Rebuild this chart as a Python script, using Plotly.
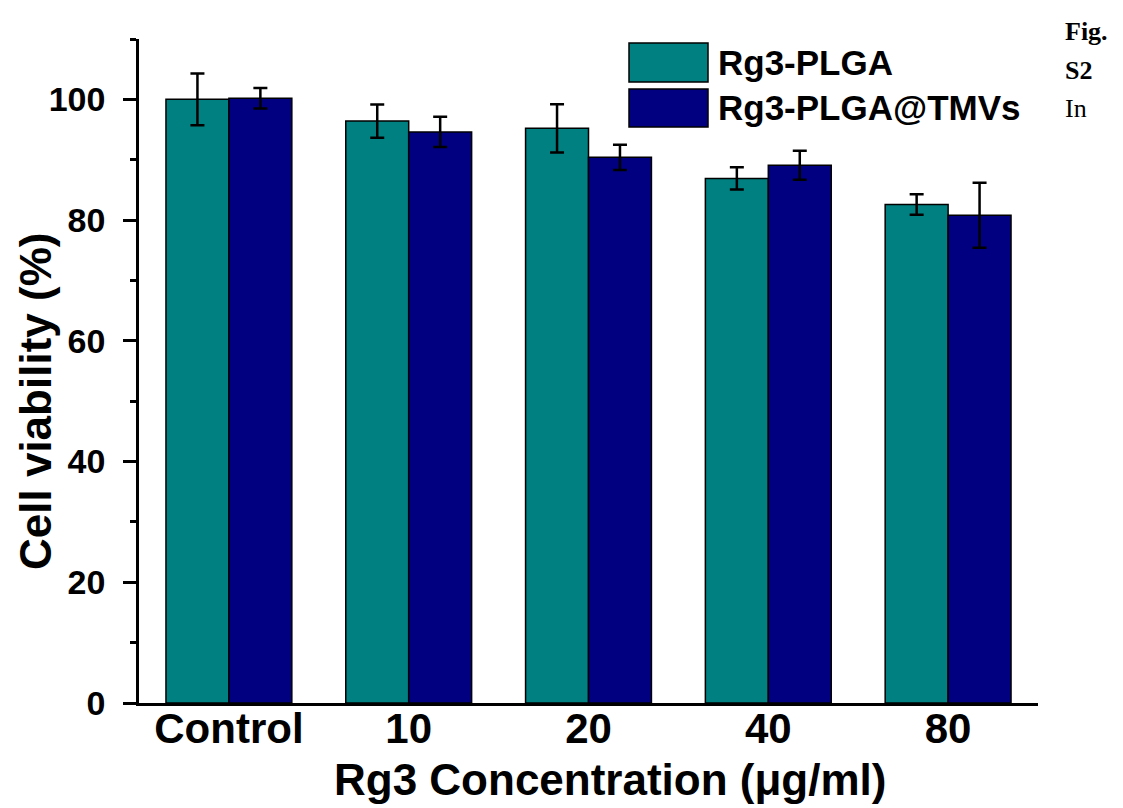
import plotly.graph_objects as go

categories = ["Control", "10", "20", "40", "80"]
series_names = ["Rg3-PLGA", "Rg3-PLGA@TMVs"]
plga_values = [100.0, 96.4, 95.2, 86.9, 82.6]
plga_errors = [4.3, 2.75, 4.0, 1.85, 1.7]
tmvs_values = [100.2, 94.6, 90.4, 89.1, 80.8]
tmvs_errors = [1.7, 2.5, 2.1, 2.4, 5.4]
y_tick_values = [0, 20, 40, 60, 80, 100]
y_tick_labels = ["0", "20", "40", "60", "80", "100"]
x_title = "Rg3 Concentration (μg/ml)"
y_title = "Cell viability (%)"

teal = "#008080"
navy = "#000080"
font_family = "Arial, 'Liberation Sans', sans-serif"
serif = "'Times New Roman', 'Liberation Serif', serif"

# page has an 8px body offset; plot area target in page px: x 139..1038, y 39..703
W, H = 1115, 800
ML, MR, MT, MB = 131, 85, 31, 105
PX0, PX1, PY0, PY1 = 139, 1038, 39, 703


def px(x):
    return (x - PX0) / (PX1 - PX0)


def py(y):
    return (PY1 - y) / (PY1 - PY0)


fig = go.Figure()
for name, vals, errs, color in [
    (series_names[0], plga_values, plga_errors, teal),
    (series_names[1], tmvs_values, tmvs_errors, navy),
]:
    fig.add_trace(go.Bar(
        name=name,
        x=categories,
        y=vals,
        marker=dict(color=color, line=dict(color="black", width=1.5)),
        error_y=dict(type="data", array=errs, visible=True,
                     color="black", thickness=2.5, width=7),
        showlegend=False,
    ))

fig.update_layout(
    width=W, height=H,
    margin=dict(l=ML, r=MR, t=MT, b=MB),
    paper_bgcolor="white", plot_bgcolor="white",
    barmode="group", bargap=0.3, bargroupgap=0,
    font=dict(family=font_family, color="black"),
)

fig.update_xaxes(
    type="category",
    range=[-0.5, 4.5],
    showline=True, linecolor="black", linewidth=2.5,
    ticks="", showgrid=False, zeroline=False,
    ticklabelstandoff=-13,
    tickfont=dict(size=42, family=font_family, weight=700),
)
fig.update_yaxes(
    range=[0, 110],
    tickvals=y_tick_values, ticktext=y_tick_labels,
    showline=True, linecolor="black", linewidth=2.5,
    ticks="outside", ticklen=13, tickwidth=2.5, tickcolor="black",
    minor=dict(dtick=10, ticks="outside", ticklen=6, tickwidth=2.5, tickcolor="black"),
    showgrid=False, zeroline=False,
    ticklabelstandoff=11,
    tickfont=dict(size=34, family=font_family, weight=700),
)

# Axis titles
fig.add_annotation(xref="paper", yref="paper", x=px(610), y=py(779),
                   xanchor="center", yanchor="middle", showarrow=False,
                   text=x_title, font=dict(size=44, family=font_family, weight=700))
fig.add_annotation(xref="paper", yref="paper", x=px(35), y=py(402),
                   xanchor="center", yanchor="middle", showarrow=False, textangle=-90,
                   text=y_title, font=dict(size=44, family=font_family, weight=700))

# Custom legend (large swatches)
legend_rows = [(series_names[0], teal, 43, 82), (series_names[1], navy, 89, 127)]
for text, color, y0, y1 in legend_rows:
    fig.add_shape(type="rect", xref="paper", yref="paper",
                  x0=px(629), x1=px(708), y0=py(y1), y1=py(y0),
                  fillcolor=color, line=dict(color="black", width=1.5))
    fig.add_annotation(xref="paper", yref="paper",
                       x=px(716), y=py((y0 + y1) / 2),
                       xanchor="left", yanchor="middle", showarrow=False,
                       text=text, font=dict(size=35, family=font_family, weight=700))

# Side caption text
for txt, yc, bold in [("Fig.", 31, True), ("S2", 70, True), ("In", 109, False)]:
    fig.add_annotation(xref="paper", yref="paper",
                       x=px(1063), y=py(yc),
                       xanchor="left", yanchor="middle", showarrow=False,
                       text=txt, font=dict(size=26, family=serif, weight=700 if bold else 400))

fig.write_html("out.html")
